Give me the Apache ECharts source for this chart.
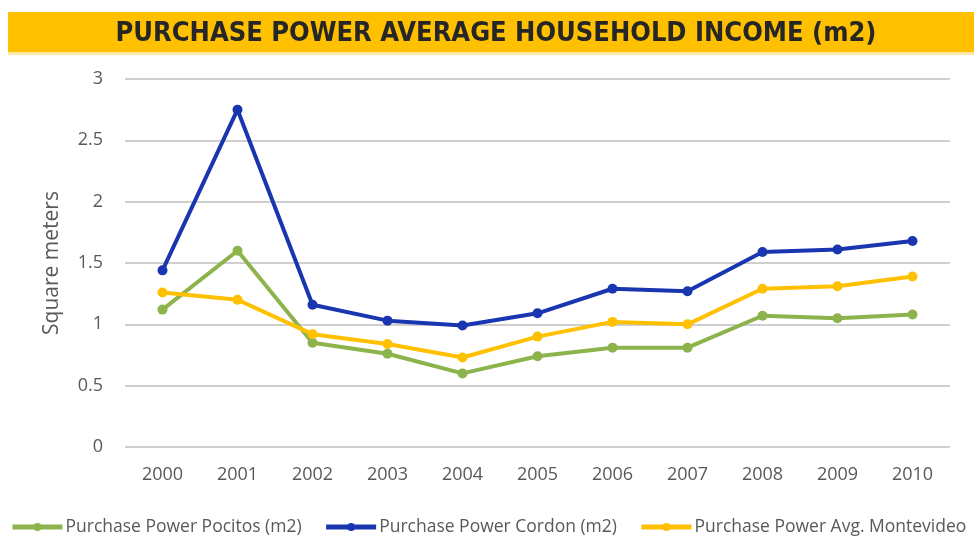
<!DOCTYPE html>
<html><head><meta charset="utf-8">
<script src="https://cdn.jsdelivr.net/npm/echarts@6/dist/echarts.min.js"></script>
<style>html,body{margin:0;padding:0;background:#fff}#c{width:974px;height:537px}</style>
</head><body><div id="c"></div>
<script>
const years = ['2000','2001','2002','2003','2004','2005','2006','2007','2008','2009','2010'];
const pocitos = [1.12,1.60,0.85,0.76,0.60,0.74,0.81,0.81,1.07,1.05,1.08];
const cordon = [1.44,2.75,1.16,1.03,0.99,1.09,1.29,1.27,1.59,1.61,1.68];
const montevideo = [1.26,1.20,0.92,0.84,0.73,0.90,1.02,1.00,1.29,1.31,1.39];
const seriesNames = ['Purchase Power Pocitos (m2)','Purchase Power Cordon (m2)','Purchase Power Avg. Montevideo'];
const colors = ['#8DB34C','#1936B0','#FFC000'];
const chart = echarts.init(document.getElementById('c'));
function mk(name, data, color){
  return {name, type:'line', data, symbol:'circle', symbolSize:10,
    lineStyle:{width:4,color}, itemStyle:{color}, z: 2};
}
chart.setOption({
  animation:false,
  graphic:[{type:'rect', shape:{x:8,y:12,width:966,height:40}, style:{fill:'#FFC000'}, z:0},
           {type:'rect', shape:{x:8,y:52,width:966,height:3}, style:{fill:'#FCE9A6'}, z:0}],
  title:{text:'PURCHASE POWER AVERAGE HOUSEHOLD INCOME (m2)', left:491, textAlign:'center', top:15,
    textStyle:{fontFamily:'DejaVu Sans Condensed', fontWeight:'bold', fontSize:27, color:'#262626'}},
  legend:{left:5, top:513, itemWidth:50, itemHeight:10, itemGap:22,
    lineStyle:{width:5},
    textStyle:{fontFamily:'Open Sans', fontSize:17.5, color:'#595959', padding:[0,0,0,-2]},
    data:seriesNames},
  grid:{left:125, right:24, top:79, bottom:90},
  xAxis:{type:'category', data:years, boundaryGap:true,
    axisLine:{show:false}, axisTick:{show:false},
    axisLabel:{color:'#595959', fontSize:18, fontFamily:'Open Sans', margin:19}},
  yAxis:{type:'value', min:0, max:3, interval:0.5,
    name:'Square meters', nameLocation:'middle', nameGap:62, nameRotate:90,
    nameTextStyle:{color:'#595959', fontSize:21, fontFamily:'Open Sans'},
    axisLabel:{color:'#595959', fontSize:18, fontFamily:'Open Sans', margin:22},
    splitLine:{lineStyle:{color:'#BFBFBF', width:1.5}}},
  series:[mk(seriesNames[0],pocitos,colors[0]), mk(seriesNames[1],cordon,colors[1]), mk(seriesNames[2],montevideo,colors[2])]
});
</script></body></html>
